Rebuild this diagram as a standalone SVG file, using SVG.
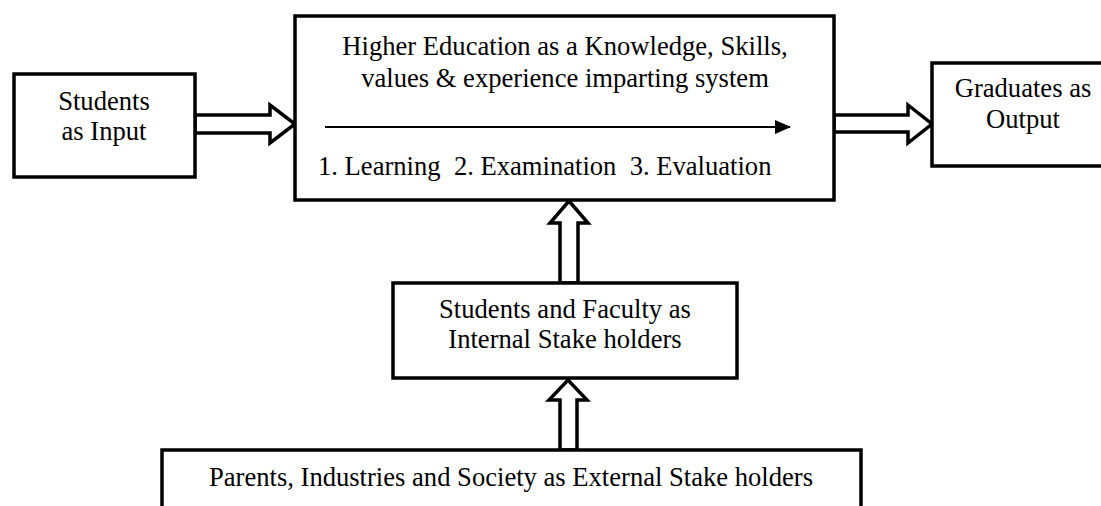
<svg xmlns="http://www.w3.org/2000/svg" width="1101" height="506" viewBox="0 0 1101 506">
<style>
.box{fill:#fff;stroke:#000;stroke-width:3.5}
.blk{fill:#fff;stroke:#000;stroke-width:3.5;stroke-linejoin:miter}
text{font-family:"Liberation Serif","Times New Roman",serif;font-size:26.6px;fill:#000}
.c{text-anchor:middle}
</style>
<defs>
<marker id="tri" markerWidth="16" markerHeight="14" refX="15" refY="7" orient="auto" markerUnits="userSpaceOnUse">
<path d="M0,0 L16,7 L0,14 Z" fill="#000"/>
</marker>
</defs>
<rect width="1101" height="506" fill="#fff"/>
<g id="connectors">
<polygon class="blk" points="195,115 270,115 270,105 295,124 270,143 270,133 195,133"/>
<polygon class="blk" points="834,115 908,115 908,105 932,124 908,143 908,132 834,132"/>
<polygon class="blk" points="560,283 560,223 550,223 569,201 588,223 578,223 578,283"/>
<polygon class="blk" points="560,450 560,400 549,400 568,380 587,400 577,400 577,450"/>
</g>
<g id="students-input">
<rect class="box" x="14" y="74" width="181" height="103"/>
<text class="c" x="104" y="110">Students</text>
<text class="c" x="104" y="140">as Input</text>
</g>
<g id="higher-education">
<rect class="box" x="295" y="16" width="539" height="184"/>
<text class="c" x="565" y="55">Higher Education as a Knowledge, Skills,</text>
<text class="c" x="565" y="87">values &amp; experience imparting system</text>
<line x1="325" y1="127" x2="790" y2="127" stroke="#000" stroke-width="2" marker-end="url(#tri)"/>
<text x="318" y="175" xml:space="preserve" style="white-space:pre">1. Learning  2. Examination  3. Evaluation</text>
</g>
<g id="graduates-output">
<rect class="box" x="932" y="63" width="175" height="103"/>
<text class="c" x="1023" y="97">Graduates as</text>
<text class="c" x="1023" y="128">Output</text>
</g>
<g id="internal-stakeholders">
<rect class="box" x="393" y="283" width="344" height="95"/>
<text class="c" x="565" y="318">Students and Faculty as</text>
<text class="c" x="565" y="348">Internal Stake holders</text>
</g>
<g id="external-stakeholders">
<rect class="box" x="162" y="450" width="699" height="80"/>
<text class="c" x="511" y="486">Parents, Industries and Society as External Stake holders</text>
</g>
</svg>
